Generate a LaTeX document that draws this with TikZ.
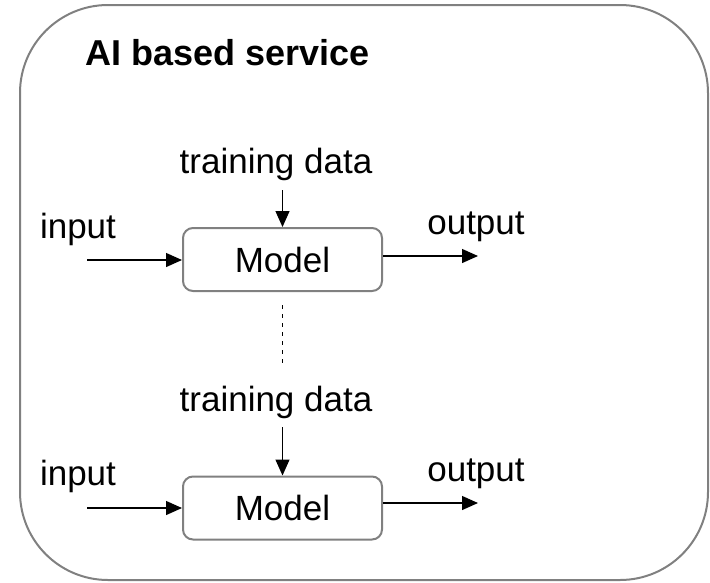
\documentclass[tikz,border=0pt]{standalone}
\usepackage{fontspec}
\setmainfont{Liberation Sans}
\usepackage{xcolor}
\usetikzlibrary{arrows.meta}

\definecolor{framegrey}{RGB}{128,128,128}

\begin{document}
\begin{tikzpicture}[x=1pt,y=-1pt,
                every node/.append style = {inner sep=0pt, font=\fontsize{35}{42}\selectfont},
                txt/.style = {anchor=base},
                modelbox/.style = {draw=framegrey, line width=2pt, rounded corners=10pt,
                                   minimum width=199pt, minimum height=63pt},
                flow/.style = {line width=1.3pt, -{Triangle[length=16pt,width=14pt]}}]
            \useasboundingbox (0,0) rectangle (710,582);
            \draw[framegrey, line width=2pt, rounded corners=88pt] (20,5) rectangle (708,580);
            \node[anchor=base west, font=\fontsize{36}{43}\selectfont\bfseries] (title) at (85,65) {AI based service};
            % first model
            \node[modelbox] (model1) at (282.5,259.5) {Model};
            \node[txt] (train1) at (276,173) {training data};
            \node[txt] (in1) at (78,238) {input};
            \node[txt] (out1) at (476,234) {output};
            \coordinate (src1) at (87,260);
            \coordinate (dst1) at (478,256);
            \draw[flow] (src1) -- (src1 -| model1.west);
            \draw[flow] (dst1 -| model1.east) -- (dst1);
            \draw[flow] (model1.north |- 0,190) -- (model1.north);
            % second model
            \node[modelbox] (model2) at (282.5,508) {Model};
            \node[txt] (train2) at (276,411) {training data};
            \node[txt] (in2) at (78,485) {input};
            \node[txt] (out2) at (476,481) {output};
            \coordinate (src2) at (87,508);
            \coordinate (dst2) at (478,503);
            \draw[flow] (src2) -- (src2 -| model2.west);
            \draw[flow] (dst2 -| model2.east) -- (dst2);
            \draw[flow] (model2.north |- 0,427) -- (model2.north);
            \draw[line width=1pt, dash pattern=on 4pt off 5pt] (model1.south |- 0,305) -- (model1.south |- 0,366);
\end{tikzpicture}
\end{document}
